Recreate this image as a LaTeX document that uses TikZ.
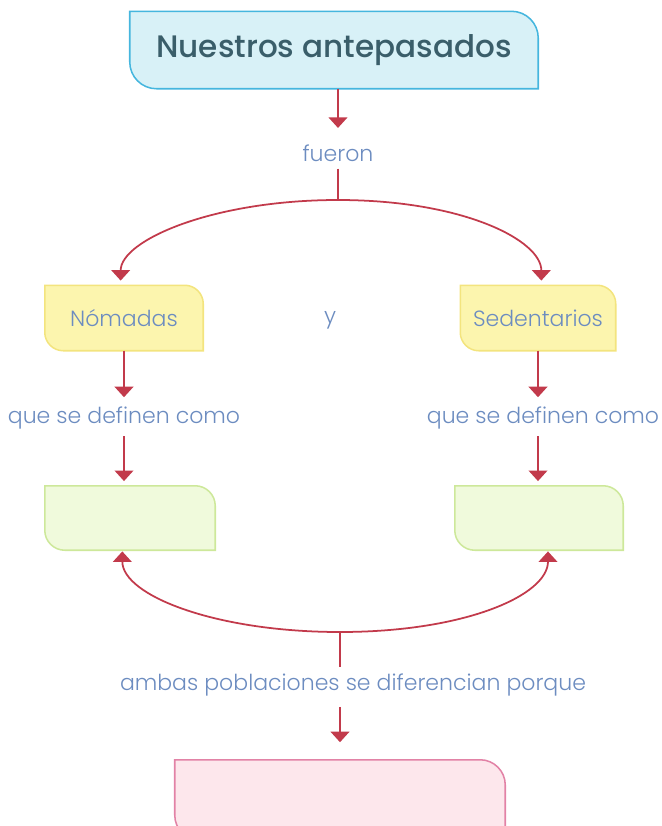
\documentclass[tikz,border=0pt]{standalone}
\usepackage{fontspec}
\setmainfont{Poppins}[UprightFont=* Light, BoldFont=* Medium]
\usetikzlibrary{arrows.meta, positioning, backgrounds}

\definecolor{flecha}{HTML}{C23A4B}
\definecolor{etiqueta}{HTML}{6C8CC0}
\definecolor{titulo}{HTML}{3A5E6A}
\definecolor{cian}{HTML}{45B6DE}
\definecolor{cianclaro}{HTML}{D8F1F7}
\definecolor{amarillo}{HTML}{F3E47E}
\definecolor{amarilloclaro}{HTML}{FCF5AE}
\definecolor{verde}{HTML}{CDE89A}
\definecolor{verdeclaro}{HTML}{F0FADC}
\definecolor{rosa}{HTML}{E282A6}
\definecolor{rosaclaro}{HTML}{FDE7EC}

% caja con esquinas redondeadas arriba a la derecha y abajo a la izquierda
% #4 = radio, #5 = distancia de los puntos de control (aprox. 0.45 del radio)
\newcommand{\hoja}[5]{%
  \filldraw[fill=#2, draw=#3, line width=1.3pt]
    (#1.north west) -- ([xshift=-#4]#1.north east)
    .. controls ([xshift=-#5]#1.north east) and ([yshift=-#5]#1.north east)
    .. ([yshift=-#4]#1.north east)
    -- (#1.south east) -- ([xshift=#4]#1.south west)
    .. controls ([xshift=#5]#1.south west) and ([yshift=#5]#1.south west)
    .. ([yshift=#4]#1.south west) -- cycle;}

\begin{document}
\begin{tikzpicture}[x=0.03cm, y=-0.03cm,
   flecha/.style={draw=flecha, line width=1.5pt},
   punta/.style={-{Triangle[length=9pt, width=16pt]}},
   etiqueta/.style={text=etiqueta, font=\fontsize{18.8}{22}\selectfont, inner sep=6pt},
   caja/.style={minimum height=1.95cm, text=etiqueta, font=\fontsize{18.8}{22}\selectfont}]

   \useasboundingbox (0,0) rectangle (662,826);

   \node[caja, minimum width=12.24cm, minimum height=2.31cm, text=titulo,
         font=\bfseries\fontsize{26.5}{32}\selectfont] (titulo) at (334,50) {Nuestros antepasados};
   \node[etiqueta] (fueron) at (338,153) {fueron};
   \coordinate (arriba) at (338,200);

   \node[caja, minimum width=4.74cm] (nomadas) at (124,318) {Nómadas};
   \node[etiqueta] (y) at (330,320) {y};
   \node[caja, minimum width=4.65cm] (sedentarios) at (538,318) {Sedentarios};

   \node[etiqueta] (defA) at (124,418) {que se definen como};
   \node[etiqueta] (defB) at (543,418) {que se definen como};

   \node[caja, minimum width=5.1cm, minimum height=1.92cm] (defNom) at (130,518) {};
   \node[caja, minimum width=5.04cm, minimum height=1.92cm] (defSed) at (539,518) {};

   \coordinate (abajo) at (340,632);
   \node[etiqueta] (ambas) at (353,685) {ambas poblaciones se diferencian porque};
   \node[caja, minimum width=9.9cm, minimum height=2.4cm] (diferencia) at (340,800) {};

   \begin{scope}[on background layer]
      \hoja{titulo}{cianclaro}{cian}{0.8cm}{0.36cm}
      \hoja{nomadas}{amarilloclaro}{amarillo}{0.55cm}{0.25cm}
      \hoja{sedentarios}{amarilloclaro}{amarillo}{0.55cm}{0.25cm}
      \hoja{defNom}{verdeclaro}{verde}{0.6cm}{0.27cm}
      \hoja{defSed}{verdeclaro}{verde}{0.6cm}{0.27cm}
      \hoja{diferencia}{rosaclaro}{rosa}{0.75cm}{0.34cm}
   \end{scope}

   % de arriba hacia las dos clases
   \draw[flecha, punta, shorten >=8pt] (titulo.south -| arriba) -- (fueron.north -| arriba);
   \draw[flecha] (fueron.south -| arriba) -- (arriba);
   \draw[flecha, punta, shorten >=4pt] (arriba) .. controls +(-125,0) and +(0,-45) .. ([xshift=-0.1cm]nomadas.north);
   \draw[flecha, punta, shorten >=4pt] (arriba) .. controls +(125,0) and +(0,-45) .. ([xshift=0.1cm]sedentarios.north);

   % definiciones
   \draw[flecha, punta, shorten >=2pt] (nomadas.south) -- (nomadas.south |- defA.north);
   \draw[flecha, punta, shorten >=4pt] (defA.south -| nomadas) -- (nomadas |- defNom.north);
   \draw[flecha, punta, shorten >=2pt] (sedentarios.south) -- (sedentarios.south |- defB.north);
   \draw[flecha, punta, shorten >=4pt] (defB.south -| sedentarios) -- (sedentarios |- defSed.north);

   % diferencias
   \draw[flecha, punta, shorten >=1pt] (abajo) .. controls +(-125,0) and +(0,45) .. ([xshift=-0.05cm]nomadas |- defNom.south);
   \draw[flecha, punta, shorten >=1pt] (abajo) .. controls +(125,0) and +(0,45) .. ([xshift=0.3cm]sedentarios |- defSed.south);
   \draw[flecha] (abajo) -- (abajo |- ambas.north);
   \draw[flecha, punta, shorten >=15pt] ([yshift=-3pt]ambas.south -| abajo) -- (abajo |- diferencia.north);
\end{tikzpicture}
\end{document}
